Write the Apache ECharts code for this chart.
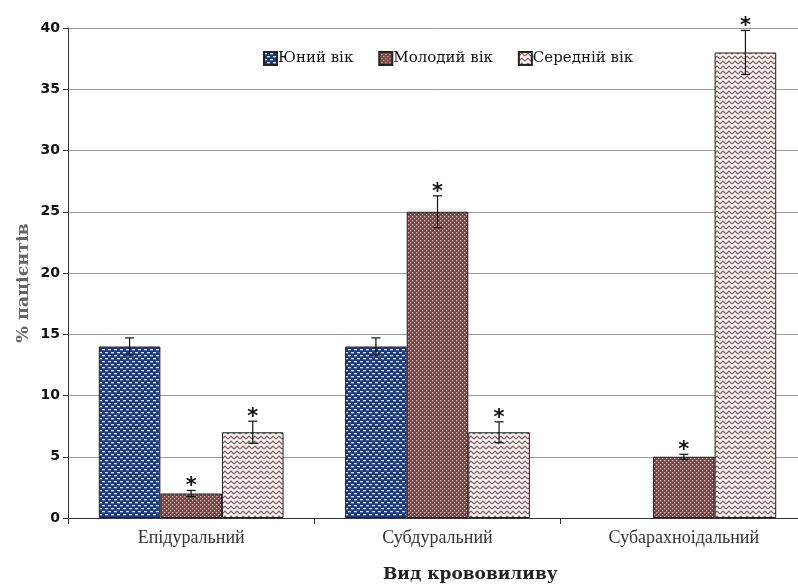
<!DOCTYPE html>
<html>
<head>
<meta charset="utf-8">
<script src="https://cdn.jsdelivr.net/npm/echarts@6/dist/echarts.min.js"></script>
<style>
  html, body { margin: 0; padding: 0; background: #fff; overflow: hidden; }
  /* область побудови в оригіналі обрізана праворуч, тому полотно трохи ширше за вікно */
  #chart { width: 810px; height: 587px; }
</style>
</head>
<body>
<div id="chart"></div>
<script>
// дані
const categories = ['Епідуральний', 'Субдуральний', 'Субарахноідальний'];
const seriesNames = ['Юний вік', 'Молодий вік', 'Середній вік'];
const youngVals = [14, 14, '-'];
const youngErr = [0.7, 0.7, null];
const middleVals = [2, 25, 5];
const middleErr = [0.25, 1.3, 0.2];
const olderVals = [7, 7, 38];
const olderErr = [0.9, 0.85, 1.8];
const starFlags = [false, true, true]; // зірочка над стовпчиком
const yTicks = { min: 0, max: 40, interval: 5 };
const xTitle = 'Вид крововиливу';
const yTitle = '% пацієнтів';

// візерунки заливки
function makePattern(kind) {
  const c = document.createElement('canvas');
  const ctx = c.getContext('2d');
  if (kind === 0) {
    c.width = 6; c.height = 6;
    ctx.fillStyle = '#1d3a7c';
    ctx.fillRect(0, 0, 6, 6);
    ctx.fillStyle = '#dfe6f2';
    ctx.fillRect(0, 1, 3, 1.3);
    ctx.fillRect(3, 4, 3, 1.3);
  } else if (kind === 1) {
    c.width = 4; c.height = 4;
    ctx.fillStyle = '#7a4343';
    ctx.fillRect(0, 0, 4, 4);
    ctx.fillStyle = '#e6c9c9';
    ctx.fillRect(0, 0, 1.2, 1.2);
    ctx.fillRect(2, 2, 1.2, 1.2);
  } else {
    c.width = 6; c.height = 5;
    ctx.fillStyle = '#fbf3f3';
    ctx.fillRect(0, 0, 6, 5);
    ctx.strokeStyle = '#7d5a5a';
    ctx.lineWidth = 1.2;
    ctx.beginPath();
    ctx.moveTo(0, 4); ctx.lineTo(3, 1); ctx.lineTo(6, 4);
    ctx.stroke();
  }
  return { image: c, repeat: 'repeat' };
}

const allVals = [youngVals, middleVals, olderVals];
const allErr = [youngErr, middleErr, olderErr];

const catGapRatio = 0.25;

const barSeries = seriesNames.map((name, i) => ({
  name: name,
  type: 'bar',
  data: allVals[i],
  barGap: '0%',
  barCategoryGap: '25%',
  itemStyle: { color: makePattern(i), borderColor: '#222', borderWidth: 1 }
}));

// точки похибок: [категорія, серія, значення, похибка, зірочка]
const errData = [];
for (let s = 0; s < 3; s++) {
  for (let c = 0; c < categories.length; c++) {
    if (allErr[s][c] != null) {
      errData.push([c, s, allVals[s][c], allErr[s][c], starFlags[s] ? 1 : 0]);
    }
  }
}

const errSeries = {
  type: 'custom',
  name: 'err',
  data: errData,
  z: 10,
  encode: { x: 0, y: 2 },
  renderItem: function (params, api) {
    const c = api.value(0), s = api.value(1), v = api.value(2), e = api.value(3), star = api.value(4);
    const catW = api.size([1, 0])[0];
    const bw = catW * (1 - catGapRatio) / 3;
    const center = api.coord([c, v]);
    const x = center[0] + (s - 1) * bw;
    const top = api.coord([c, v + e])[1];
    const bot = api.coord([c, v - e])[1];
    const style = { stroke: '#111', lineWidth: 1.2 };
    const children = [
      { type: 'line', shape: { x1: x, y1: top, x2: x, y2: bot }, style: style },
      { type: 'line', shape: { x1: x - 4.5, y1: top, x2: x + 4.5, y2: top }, style: style },
      { type: 'line', shape: { x1: x - 4.5, y1: bot, x2: x + 4.5, y2: bot }, style: style }
    ];
    if (star) {
      children.push({
        type: 'text',
        style: {
          text: '*', x: x, y: top + 7, align: 'center', verticalAlign: 'bottom',
          font: 'bold 21px "DejaVu Sans"', fill: '#111'
        }
      });
    }
    return { type: 'group', children: children };
  }
};

const chart = echarts.init(document.getElementById('chart'));
chart.setOption({
  animation: false,
  backgroundColor: '#fff',
  grid: { left: 68, top: 28, right: 3, bottom: 69 },
  legend: {
    data: seriesNames,
    left: 263,
    top: 51,
    padding: 0,
    icon: 'rect',
    itemWidth: 13,
    itemHeight: 13,
    itemGap: 25,
    textStyle: { fontFamily: '"DejaVu Serif"', fontSize: 15, color: '#111', padding: [0, 0, 0, -4] }
  },
  graphic: [
    {
      type: 'text', left: 383, top: 566,
      style: { text: xTitle, font: 'bold 17px "DejaVu Serif"', fill: '#222' }
    },
    {
      type: 'text', x: 23, y: 283, rotation: Math.PI / 2,
      style: { text: yTitle, font: 'bold 17.5px "DejaVu Serif"', fill: '#666', align: 'center', verticalAlign: 'middle' }
    }
  ],
  xAxis: {
    type: 'category',
    data: categories,
    axisLine: { lineStyle: { color: '#333', width: 1 } },
    axisTick: { show: true, interval: 0, length: 6, lineStyle: { color: '#333' } },
    axisLabel: { fontFamily: '"Liberation Serif"', fontSize: 18, color: '#333', margin: 11 },
    splitLine: { show: false }
  },
  yAxis: {
    type: 'value',
    min: yTicks.min,
    max: yTicks.max,
    interval: yTicks.interval,
    axisLine: { show: true, lineStyle: { color: '#333', width: 1 } },
    axisTick: { show: true, length: 5, lineStyle: { color: '#333' } },
    axisLabel: { fontFamily: '"DejaVu Sans"', fontWeight: 'bold', fontSize: 14, color: '#111', margin: 8 },
    splitLine: { lineStyle: { color: '#999', width: 1 } }
  },
  series: barSeries.concat([errSeries])
});
</script>
</body>
</html>
